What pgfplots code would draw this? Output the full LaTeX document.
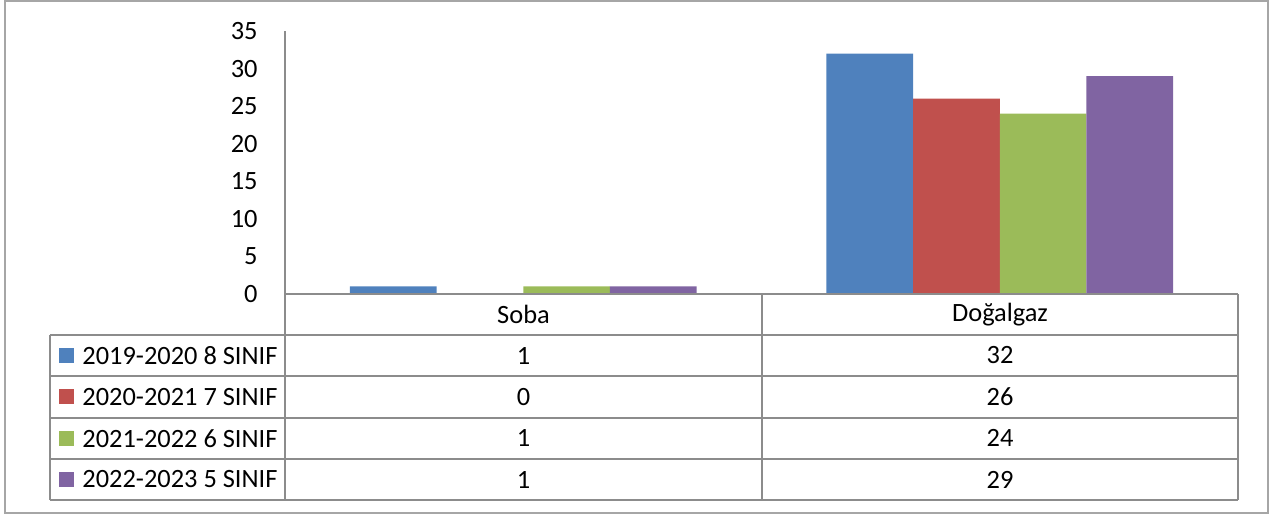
\documentclass[border=0pt]{standalone}
\usepackage{pgfplots}
\pgfplotsset{compat=1.18}
\usepackage{fontspec}
\setmainfont{Carlito}
\definecolor{xblue}{HTML}{4F81BD}
\definecolor{xred}{HTML}{C0504D}
\definecolor{xgreen}{HTML}{9BBB59}
\definecolor{xpurple}{HTML}{8064A2}
\definecolor{gridgray}{HTML}{8C8C8C}
\definecolor{framegray}{HTML}{A6A6A6}
\begin{document}
\fontsize{13.2}{16}\selectfont
\begin{tikzpicture}
  % pixel grid: 1 px = 0.5pt, y downwards
  \begin{scope}[x=0.5pt,y=-0.5pt]
    \path (0,0) rectangle (1274,515);
    \draw[framegray, line width=0.8pt] (5,1) rectangle (1268,513);
  \end{scope}

  \begin{axis}[
      scale only axis,
      at={(142.5pt,-147pt)}, anchor=south west,
      width=476.5pt, height=131.5pt,
      ybar=0pt,
      bar width=43.35pt,
      xmin=-0.5, xmax=1.5,
      ymin=0, ymax=35,
      ytick={0,5,...,35},
      xtick=\empty,
      axis x line=none,
      axis y line*=left,
      y axis line style={gridgray, line width=0.8pt, -},
      major tick length=0pt,
      tick label style={font=\fontsize{13.2}{16}\selectfont},
      /pgf/number format/assume math mode=true,
      yticklabel style={inner sep=0pt, xshift=-13.5pt},
      clip=false,
    ]
    \addplot[draw=none, fill=xblue] coordinates {(0,1) (1,32)};
    \addplot[draw=none, fill=xred] coordinates {(0,0) (1,26)};
    \addplot[draw=none, fill=xgreen] coordinates {(0,1) (1,24)};
    \addplot[draw=none, fill=xpurple] coordinates {(0,1) (1,29)};
  \end{axis}

  \begin{scope}[x=0.5pt,y=-0.5pt]
    % data table
    \draw[gridgray, line width=1pt] (285,294) -- (1238,294);
    \foreach \yy in {335,376,417.5,459,500}
      \draw[gridgray, line width=1pt] (50,\yy) -- (1238,\yy);
    \draw[gridgray, line width=1pt] (285,294) -- (285,500);
    \draw[gridgray, line width=1pt] (762,294) -- (762,500);
    \draw[gridgray, line width=1pt] (1238,294) -- (1238,500);
    \draw[gridgray, line width=1pt] (50,335) -- (50,500);

    \node at (523.5,314.5) {Soba};
    \node at (1000,314.5) {Doğalgaz};

    \foreach \yy/\col/\lab/\a/\b in {
        355.5/xblue/2019-2020 8 SINIF/1/32,
        396.75/xred/2020-2021 7 SINIF/0/26,
        438.25/xgreen/2021-2022 6 SINIF/1/24,
        479.5/xpurple/2022-2023 5 SINIF/1/29}{
      \fill[\col] (59,\yy-7.5) rectangle (74,\yy+7.5);
      \node[anchor=west, inner sep=0pt] at (82,\yy) {\lab};
      \node at (523.5,\yy) {\a};
      \node at (1000,\yy) {\b};
    }
  \end{scope}
\end{tikzpicture}
\end{document}
